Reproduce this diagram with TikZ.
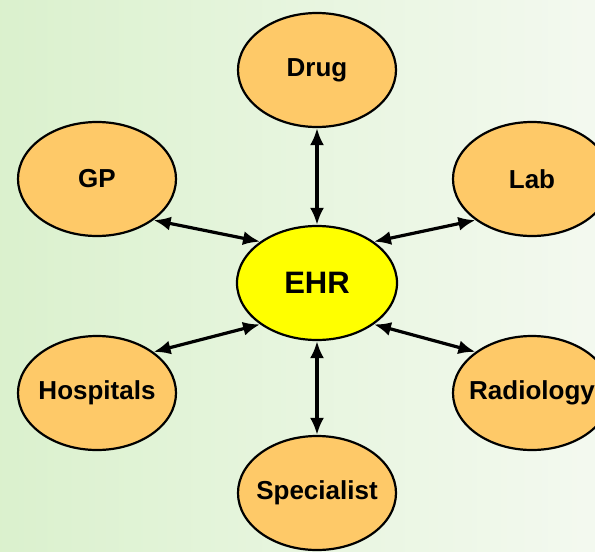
\documentclass[tikz,border=0pt]{standalone}
\usepackage{fontspec}
\setmainfont{Liberation Sans}
\usetikzlibrary{shapes.geometric,arrows.meta}
\definecolor{bgleft}{RGB}{216,240,202}
\definecolor{bgright}{RGB}{246,250,243}
\definecolor{orangefill}{RGB}{254,201,104}
\definecolor{ehrfill}{RGB}{255,255,0}
\tikzset{
  party/.style={ellipse,draw=black,line width=2.2pt,fill=orangefill,minimum width=158pt,minimum height=114pt,inner xsep=-20pt,inner ysep=0pt,font=\fontsize{26}{28}\selectfont\bfseries},
  hub/.style={ellipse,draw=black,line width=2.2pt,fill=ehrfill,minimum width=160pt,minimum height=114pt,inner xsep=-10pt,inner ysep=0pt,font=\fontsize{31}{34}\selectfont\bfseries},
  link/.style={line width=3.2pt,{Latex[length=17pt,width=14pt]}-{Latex[length=17pt,width=14pt]}}
}
\begin{document}
\begin{tikzpicture}[x=1pt,y=-1pt]
\useasboundingbox (0,0) rectangle (595,552);
\clip (0,0) rectangle (595,552);
\shade[shading angle=110,left color=bgleft,right color=bgright] (-60,-60) rectangle (655,612);
\node[hub] (ehr) at (317,283) {EHR};
\node[party] (drug) at (317,70) {Drug};
\node[party] (gp) at (97,179) {GP};
\node[party] (lab) at (532,179) {Lab};
\node[party] (hosp) at (97,393) {Hospitals};
\node[party] (rad) at (532,393) {Radiology};
\node[party] (spec) at (317,493) {Specialist};
\draw[link] (drug.south) -- (ehr.north);
\draw[link] (ehr.south) -- (spec.north);
\draw[link] (gp.-36) -- (ehr.144);
\draw[link] (lab.-144) -- (ehr.36);
\draw[link] (hosp.36) -- (ehr.-144);
\draw[link] (rad.144) -- (ehr.-36);
\end{tikzpicture}
\end{document}
